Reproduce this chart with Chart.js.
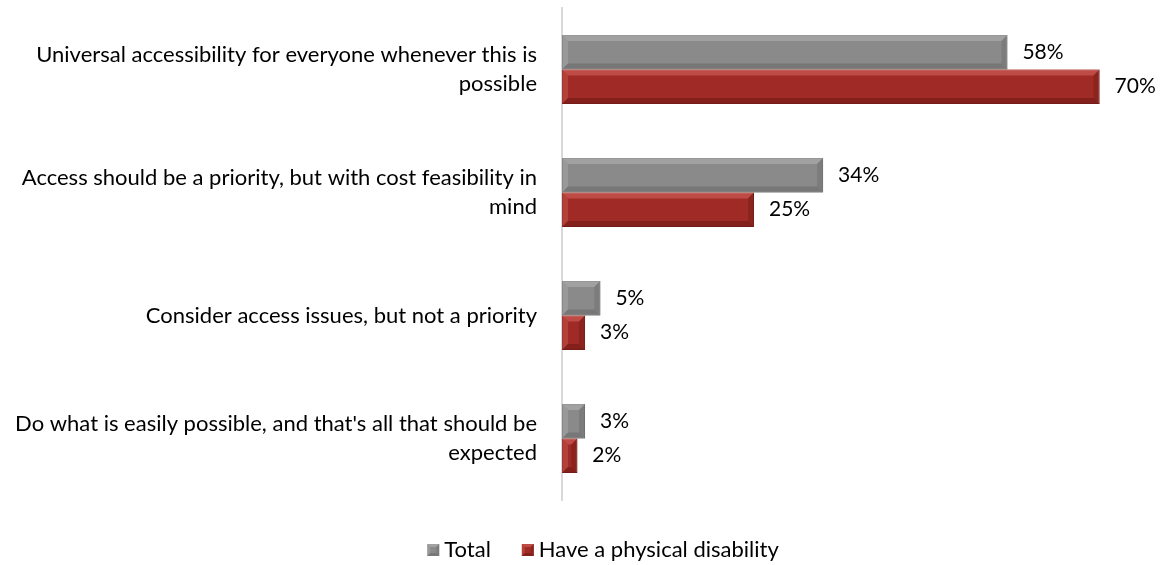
<!DOCTYPE html>
<html>
<head>
<meta charset="utf-8">
<script src="https://cdn.jsdelivr.net/npm/chart.js@4.4.1/dist/chart.umd.min.js"></script>
<style>
  html, body { margin: 0; padding: 0; background: #fff; }
  #wrap { width: 1161px; height: 565px; }
</style>
</head>
<body>
<div id="wrap"><canvas id="myChart" width="1161" height="565"></canvas></div>
<script>
'use strict';

let categories = [
  ['Universal accessibility for everyone whenever this is', 'possible'],
  ['Access should be a priority, but with cost feasibility in', 'mind'],
  'Consider access issues, but not a priority',
  ['Do what is easily possible, and that\'s all that should be', 'expected']
];
let seriesNames = ['Total', 'Have a physical disability'];
let totalValues = [58, 34, 5, 3];
let disabilityValues = [70, 25, 3, 2];

let fontFamily = 'Lato, Carlito, "Noto Sans", sans-serif';

// colours per series: body, light edge, dark edge
let palette = [
  { body: '#8a8a8a', light: '#b0b0b0', dark: '#6a6a6a', border: '#707070' },
  { body: '#a02a25', light: '#d2625b', dark: '#701b17', border: '#7d1f1b' }
];

function drawBevel(ctx, col, left, top, right, bottom, size) {
  let b = Math.min(size, (right - left) / 2, (bottom - top) / 2);
  ctx.save();
  // top edge
  ctx.fillStyle = col.light;
  ctx.globalAlpha = 0.6;
  ctx.beginPath();
  ctx.moveTo(left, top); ctx.lineTo(right, top);
  ctx.lineTo(right - b, top + b); ctx.lineTo(left + b, top + b);
  ctx.closePath(); ctx.fill();
  // left edge
  ctx.globalAlpha = 0.4;
  ctx.beginPath();
  ctx.moveTo(left, top); ctx.lineTo(left + b, top + b);
  ctx.lineTo(left + b, bottom - b); ctx.lineTo(left, bottom);
  ctx.closePath(); ctx.fill();
  // bottom edge
  ctx.fillStyle = col.dark;
  ctx.globalAlpha = 0.6;
  ctx.beginPath();
  ctx.moveTo(left, bottom); ctx.lineTo(right, bottom);
  ctx.lineTo(right - b, bottom - b); ctx.lineTo(left + b, bottom - b);
  ctx.closePath(); ctx.fill();
  // right edge
  ctx.globalAlpha = 0.45;
  ctx.beginPath();
  ctx.moveTo(right, top); ctx.lineTo(right - b, top + b);
  ctx.lineTo(right - b, bottom - b); ctx.lineTo(right, bottom);
  ctx.closePath(); ctx.fill();
  ctx.restore();
}

// bevel edges over each bar, the value label to its right, and the legend row
const bevelPlugin = {
  id: 'bevel',
  afterDatasetsDraw(chart) {
    let ctx = chart.ctx;
    chart.data.datasets.forEach(function (ds, di) {
      let meta = chart.getDatasetMeta(di);
      meta.data.forEach(function (bar, i) {
        let p = bar.getProps(['x', 'y', 'base', 'height'], true);
        drawBevel(ctx, palette[di], p.base, p.y - p.height / 2, p.x, p.y + p.height / 2, 6);

        ctx.save();
        ctx.fillStyle = '#000';
        ctx.font = '21px ' + fontFamily;
        ctx.textAlign = 'left';
        ctx.textBaseline = 'middle';
        ctx.fillText(ds.data[i] + '%', p.x + 15, p.y);
        ctx.restore();
      });
    });
  },
  afterDraw(chart) {
    let ctx = chart.ctx;
    let box = 12, gap = 5, spacing = 31;
    let legendY = chart.chartArea.bottom + 50;
    let centerX = 603;
    ctx.save();
    ctx.font = '22px ' + fontFamily;
    let widths = chart.data.datasets.map(ds => ctx.measureText(ds.label).width);
    let total = widths.reduce((a, w) => a + box + gap + w, 0) + spacing * (widths.length - 1);
    let x = centerX - total / 2;
    chart.data.datasets.forEach(function (ds, di) {
      let col = palette[di];
      ctx.fillStyle = col.body;
      ctx.fillRect(x, legendY - box / 2, box, box);
      drawBevel(ctx, col, x, legendY - box / 2, x + box, legendY + box / 2, 3);
      ctx.fillStyle = '#000';
      ctx.textAlign = 'left';
      ctx.textBaseline = 'middle';
      ctx.fillText(ds.label, x + box + gap, legendY);
      x += box + gap + widths[di] + spacing;
    });
    ctx.restore();
  }
};

let canvasChart = document.getElementById('myChart').getContext('2d');

const data = {
  labels: categories,
  datasets: [{
    label: seriesNames[0],
    data: totalValues,
    backgroundColor: palette[0].body,
    borderColor: palette[0].border,
    borderWidth: 1,
    borderSkipped: false
  },
  {
    label: seriesNames[1],
    data: disabilityValues,
    backgroundColor: palette[1].body,
    borderColor: palette[1].border,
    borderWidth: 1,
    borderSkipped: false
  }]
};

const config = {
  type: 'bar',
  data: data,
  plugins: [bevelPlugin],
  options: {
    indexAxis: 'y',
    responsive: false,
    animation: false,
    layout: { padding: { top: 8, right: 23, bottom: 0, left: 0 } },
    datasets: {
      bar: { categoryPercentage: 0.56, barPercentage: 1.0 }
    },
    scales: {
      x: {
        display: true,
        min: 0,
        max: 75,
        grid: { display: false },
        border: { display: false },
        ticks: { display: false },
        // room under the plot for the legend row
        afterFit(scale) {
          scale.height = 65;
        }
      },
      y: {
        grid: { display: false },
        border: { display: true, color: '#d9d9d9', width: 2 },
        ticks: {
          color: '#000',
          padding: 17,
          font: { family: fontFamily, size: 22, lineHeight: 1.32 }
        },
        afterFit(scale) {
          scale.width = 562;
          scale.paddingTop = 0;
          scale.paddingBottom = 0;
        }
      }
    },
    plugins: {
      legend: { display: false },
      tooltip: { enabled: false }
    }
  }
};

// eslint-disable-next-line no-unused-vars
const myChart = new Chart(canvasChart, config);
</script>
</body>
</html>
